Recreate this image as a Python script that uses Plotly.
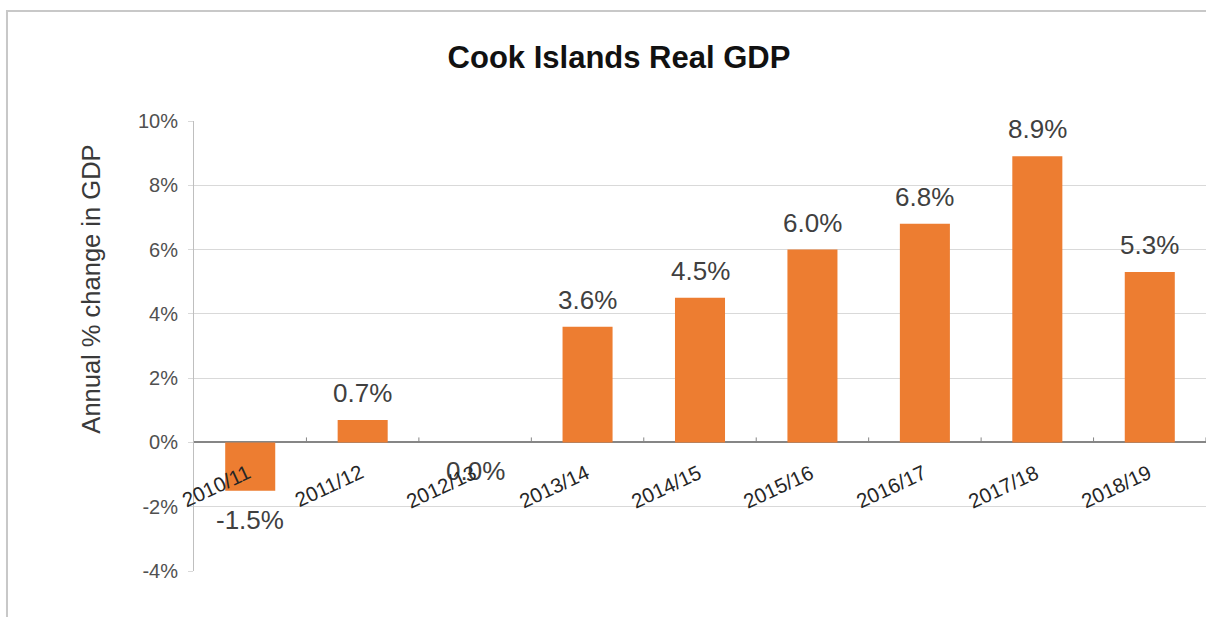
import plotly.graph_objects as go

# Cook Islands real GDP growth by fiscal year
years = ["2010/11", "2011/12", "2012/13", "2013/14", "2014/15",
         "2015/16", "2016/17", "2017/18", "2018/19"]
growth = [-1.5, 0.7, 0.0, 3.6, 4.5, 6.0, 6.8, 8.9, 5.3]
y_ticks = [-4, -2, 0, 2, 4, 6, 8, 10]
y_tick_text = [f"{t}%" for t in y_ticks]

FONT = "Liberation Sans, Arial, sans-serif"
BAR = "#ED7D31"

fig = go.Figure(go.Bar(
    x=list(range(len(years))), y=growth,
    marker=dict(color=BAR, line=dict(width=0)),
    hoverinfo="skip",
))

# value labels: above positive bars, below zero/negative ones
annotations = []
for i, v in enumerate(growth):
    above = v > 0
    annotations.append(dict(
        x=i, y=v, xref="x", yref="y", text=f"{v:.1f}%", showarrow=False,
        xanchor="center", yanchor="bottom" if above else "top",
        yshift=10 if above else -12,
        font=dict(family=FONT, size=26, color="#404040"),
    ))

# category labels sit just under the zero line, slanted
for i, name in enumerate(years):
    annotations.append(dict(
        x=i, y=0, xref="x", yref="y", text=name, showarrow=False,
        textangle=-25, xanchor="right", yanchor="top",
        xshift=7, yshift=-15,
        font=dict(family=FONT, size=20.5, color="#262626"),
    ))

# vertical axis title
annotations.append(dict(
    x=-0.102, y=0.627, xref="paper", yref="paper",
    text="Annual % change in GDP", showarrow=False, textangle=-90,
    xanchor="center", yanchor="middle",
    font=dict(family=FONT, size=25.5, color="#3a3a3a"),
))

shapes = []
# small category-boundary ticks on the zero line
for i in range(len(years)):
    shapes.append(dict(
        type="line", xref="x", yref="y", ysizemode="pixel", yanchor=0,
        x0=i + 0.5, x1=i + 0.5, y0=0, y1=5,
        line=dict(color="#868686", width=1),
    ))
# chart frame
shapes.append(dict(
    type="rect", xref="paper", yref="paper",
    x0=-0.1848, x1=1.2, y0=-0.3, y1=1.2444,
    line=dict(color="#c8c8c8", width=2), fillcolor="rgba(0,0,0,0)",
    layer="below",
))

fig.update_layout(
    width=1206, height=617,
    margin=dict(l=194, r=0, t=121, b=46),
    paper_bgcolor="white", plot_bgcolor="white",
    bargap=0.555,
    showlegend=False,
    title=dict(
        text="<b>Cook Islands Real GDP</b>",
        x=619 / 1206, xref="container", xanchor="center",
        y=1 - 57 / 617, yref="container", yanchor="middle",
        font=dict(family=FONT, size=31, color="#111111"),
    ),
    xaxis=dict(
        range=[-0.5, len(years) - 0.5],
        showticklabels=False, showgrid=False, zeroline=False,
        ticks="", showline=False, fixedrange=True,
    ),
    yaxis=dict(
        range=[-4, 10], tickvals=y_ticks, ticktext=y_tick_text,
        showgrid=True, gridcolor="#d9d9d9", gridwidth=1,
        zeroline=True, zerolinecolor="#868686", zerolinewidth=1.5,
        showline=True, linecolor="#bfbfbf", linewidth=1,
        ticks="outside", ticklen=5, tickcolor="#d9d9d9",
        tickfont=dict(family=FONT, size=20, color="#505050"),
        ticklabelstandoff=6,
    ),
    annotations=annotations,
    shapes=shapes,
)

fig.write_html("out.html")
